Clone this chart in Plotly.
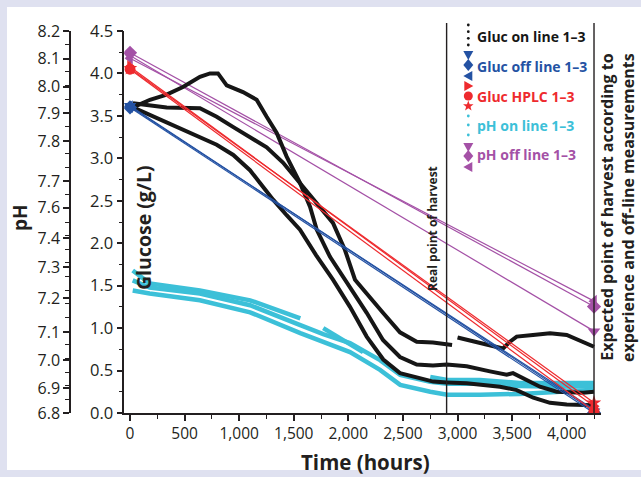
import math
import plotly.graph_objects as go

# ---------------- data ----------------
# Glucose on-line (g/L), three runs; None marks a gap in the record
gluc_on1_t = [27, 183, 336, 485, 641, 733, 806, 886, 1035, 1160, 1252, 1344, 1435, 1557, 1649, 1710,
              1832, 1969, 2168, 2317, 2473, 2626, 2775, 2901, 3084, 3297, 3450, 3508, 3633, 3755, 3908, 4149, 4250]
gluc_on1_g = [3.60, 3.69, 3.75, 3.84, 3.96, 4.00, 4.00, 3.86, 3.78, 3.69, 3.49, 3.30, 3.02, 2.71, 2.43, 2.16,
              1.84, 1.57, 1.18, 0.86, 0.66, 0.57, 0.56, 0.57, 0.55, 0.49, 0.45, 0.47, 0.39, 0.31, 0.25, 0.24, 0.25]

gluc_on2_t = [27, 183, 336, 641, 794, 943, 1099, 1252, 1401, 1557, 1710, 1859, 1969, 2061, 2317, 2473, 2626,
              2775, 2950, None, 3000, 3267, 3416, 3480, 3542, 3691, 3847, 4000, 4149, 4250]
gluc_on2_g = [3.65, 3.63, 3.60, 3.59, 3.49, 3.37, 3.25, 3.13, 2.95, 2.71, 2.47, 2.24, 1.92, 1.57, 1.18, 0.95, 0.84,
              0.83, 0.80, None, 0.89, 0.80, 0.76, 0.84, 0.90, 0.92, 0.94, 0.92, 0.84, 0.78]

gluc_on3_t = [27, 183, 336, 488, 641, 794, 946, 1099, 1191, 1313, 1435, 1557, 1704, 1859, 2015, 2168, 2320,
              2473, 2626, 2778, 2901, 3084, 3389, 3542, 3694, 3847, 4000, 4250]
gluc_on3_g = [3.60, 3.51, 3.42, 3.33, 3.25, 3.16, 3.04, 2.86, 2.71, 2.51, 2.33, 2.16, 1.86, 1.57, 1.25, 0.90, 0.63,
              0.47, 0.42, 0.37, 0.36, 0.35, 0.31, 0.27, 0.18, 0.12, 0.10, 0.09]

# pH on-line, three runs
ph_on1_t = [25, 180, 640, 1100, 1560, None, 1770, 2135, None, 2750, 2905, 3205, 3570, 3940, 4250]
ph_on1_v = [7.322, 7.275, 7.249, 7.213, 7.147, None, 7.111, 7.023, None, 6.932, 6.921, 6.921, 6.910, 6.910, 6.910]
ph_on2_t = [25, 180, 640, 1100, 1560, 1770, 2015, 2290, 2475, 2750, 2905, 3205, 3570, 3940, 4250]
ph_on2_v = [7.286, 7.260, 7.238, 7.195, 7.122, 7.089, 7.056, 6.994, 6.940, 6.914, 6.907, 6.907, 6.899, 6.896, 6.899]
ph_on3_t = [25, 180, 640, 1100, 1560, 1770, 2015, 2290, 2475, 2750, 2905, 3205, 3570, 3940, 4250]
ph_on3_v = [7.249, 7.238, 7.213, 7.169, 7.093, 7.060, 7.023, 6.958, 6.903, 6.878, 6.867, 6.867, 6.870, 6.878, 6.885]

# Off-line measurements: start and harvest points
offline_t = [0, 4250]
gluc_off = [[3.62, 0.02], [3.60, 0.00], [3.61, 0.04]]
gluc_hplc = [[4.08, 0.08], [4.05, 0.02], [4.06, 0.12]]
ph_off = [[8.11, 7.10], [8.12, 7.19], [8.10, 7.21]]

real_harvest_t = 2900
expected_harvest_t = 4250

# axis tick labels
x_ticks = [0, 500, 1000, 1500, 2000, 2500, 3000, 3500, 4000]
x_ticktext = ["0", "500", "1,000", "1,500", "2,000", "2,500", "3,000", "3,500", "4,000"]
ph_tickvals = [8.2, 8.099, 7.996, 7.899, 7.796, 7.65, 7.553, 7.44, 7.334, 7.22, 7.097, 6.994, 6.892, 6.8]
ph_ticktext = ["8.2", "8.1", "8.0", "7.9", "7.8", "7.7", "7.6", "7.4", "7.3", "7.2", "7.1", "7.0", "6.9", "6.8"]

legend_labels = ["Gluc on line 1\u20133", "Gluc off line 1\u20133", "Gluc HPLC 1\u20133",
                 "pH on line 1\u20133", "pH off line 1\u20133"]

# ---------------- styles ----------------
BLACK = "#161616"
BLUE = "#2452a3"
RED = "#ee2a2e"
CYAN = "#3cc0d8"
PURPLE = "#a451a6"
AXIS = "#231f20"
LAV = "#dfe1f0"
FONT = "Open Sans"

fig = go.Figure()

# pH (base axis y) - drawn first (underneath)
for t, v in [(ph_on1_t, ph_on1_v), (ph_on2_t, ph_on2_v), (ph_on3_t, ph_on3_v)]:
    fig.add_trace(go.Scatter(x=t, y=v, mode="lines", yaxis="y", connectgaps=False,
                             line=dict(color=CYAN, width=4.5), showlegend=False))
ph_syms = ["triangle-down", "diamond", "triangle-left"]
for vals, s in zip(ph_off, ph_syms):
    fig.add_trace(go.Scatter(x=offline_t, y=vals, mode="lines+markers", yaxis="y",
                             line=dict(color=PURPLE, width=1.2),
                             marker=dict(symbol=s, size=11, color=PURPLE), showlegend=False))

# glucose (overlay axis y2)
for t, g in [(gluc_on1_t, gluc_on1_g), (gluc_on2_t, gluc_on2_g), (gluc_on3_t, gluc_on3_g)]:
    fig.add_trace(go.Scatter(x=t, y=g, mode="lines", yaxis="y2", connectgaps=False,
                             line=dict(color=BLACK, width=4), showlegend=False))
for vals, s in zip(gluc_off, ["triangle-down", "diamond", "triangle-left"]):
    fig.add_trace(go.Scatter(x=offline_t, y=vals, mode="lines+markers", yaxis="y2",
                             line=dict(color=BLUE, width=1.2),
                             marker=dict(symbol=s, size=11, color=BLUE), showlegend=False))
for vals, s in zip(gluc_hplc, ["triangle-right", "circle", "star"]):
    fig.add_trace(go.Scatter(x=offline_t, y=vals, mode="lines+markers", yaxis="y2",
                             line=dict(color=RED, width=1.2),
                             marker=dict(symbol=s, size=11, color=RED), showlegend=False))

# ---------------- layout geometry ----------------
L, R, T, B = 70, 40, 31, 64
W, H = 641, 477
PW = W - L - R
PH = H - T - B


def px(xp):
    return (xp - L) / PW


def py(yp):
    return (H - B - yp) / PH


x_dom0 = px(124.3)

fig.update_layout(
    width=W, height=H,
    margin=dict(l=L, r=R, t=T, b=B),
    paper_bgcolor=LAV, plot_bgcolor="white",
    showlegend=False,
    font=dict(family=FONT, color=AXIS),
    xaxis=dict(domain=[x_dom0, 1], range=[-52, 4314], anchor="y",
               tickvals=x_ticks, ticktext=x_ticktext, ticks="outside", ticklen=6, tickwidth=1.5,
               tickcolor=AXIS, showline=True, linecolor=AXIS, linewidth=1.5, showgrid=False,
               zeroline=False, tickfont=dict(size=15.5, color=AXIS),
               minor=dict(ticks="outside", ticklen=4, tickwidth=1.3, tickcolor=AXIS, dtick=250, tick0=0)),
    yaxis=dict(range=[6.8, 8.2], anchor="free", position=0, side="left",
               tickvals=ph_tickvals, ticktext=ph_ticktext, ticks="outside", ticklen=6, tickwidth=1.5,
               tickcolor=AXIS, showline=True, linecolor=AXIS, linewidth=1.5, showgrid=False,
               zeroline=False, tickfont=dict(size=16, color=AXIS),
               minor=dict(ticks="outside", ticklen=4, tickwidth=1.3, tickcolor=AXIS, dtick=0.05, tick0=6.8)),
    yaxis2=dict(range=[0, 4.5], overlaying="y", anchor="x", side="left",
                dtick=0.5, tick0=0, tickformat=".1f", ticks="outside", ticklen=6, tickwidth=1.5,
                tickcolor=AXIS, showline=True, linecolor=AXIS, linewidth=1.5, showgrid=False,
                zeroline=False, tickfont=dict(size=16.5, color=AXIS),
                minor=dict(ticks="outside", ticklen=4, tickwidth=1.3, tickcolor=AXIS, dtick=0.25, tick0=0)),
)

# white panel and harvest lines
fig.add_shape(type="rect", xref="paper", yref="paper", x0=px(7), x1=px(W + 5), y0=py(470), y1=py(7),
              fillcolor="white", line=dict(width=0), layer="below")
for t in [real_harvest_t, expected_harvest_t]:
    fig.add_shape(type="line", xref="x", yref="paper", x0=t, x1=t, y0=0, y1=py(23),
                  line=dict(color=AXIS, width=1.4))

# titles / labels
ann = [
    dict(text="<b>pH</b>", x=px(20), y=py(218), textangle=-90, size=19),
    dict(text="<b>Time (hours)</b>", x=px(365), y=py(462), size=20.5),
    dict(text="<b>Glucose (g/L)</b>", x=px(143), y=py(228), textangle=-90, size=19.5),
    dict(text="<b>Real point of harvest</b>", x=px(433), y=py(229), textangle=-90, size=12),
    dict(text="<b>Expected point of harvest according to<br>experience and off-line measurements</b>",
         x=px(617), y=py(208), textangle=-90, align="right", size=16),
]
for a in ann:
    size = a.pop("size")
    fig.add_annotation(xref="paper", yref="paper", showarrow=False, xanchor="center", yanchor="middle",
                       font=dict(family=FONT, color=AXIS, size=size), **a)


# ---------------- custom legend ----------------
def star_path(ro, ri):
    pts = []
    for k in range(10):
        r = ro if k % 2 == 0 else ri
        ang = math.radians(90 + 36 * k)
        pts.append("%.2f,%.2f" % (r * math.cos(ang), r * math.sin(ang)))
    return "M " + " L ".join(pts) + " Z"


GLYPH_PATHS = {
    "tdown": "M -5,4 L 5,4 L 0,-5 Z",
    "tleft": "M 4,5 L 4,-5 L -5,0 Z",
    "tright": "M -4,5 L -4,-5 L 5,0 Z",
    "diamond": "M 0,6 L 5,0 L 0,-6 L -5,0 Z",
    "star": star_path(5.5, 2.3),
}

leg_colors = [BLACK, BLUE, RED, CYAN, PURPLE]
leg_glyphs = [["dot"] * 4, ["tdown", "diamond", "tleft"], ["tright", "circle", "star"],
              ["dot"] * 3, ["tdown", "diamond", "tleft"]]
leg_text_y = [36.7, 66, 96.7, 125.7, 154]
leg_glyph_y = [[25, 31.7, 38.3, 45], [55, 65, 76], [86, 96, 106], [116, 125, 135], [147, 156, 167]]
gx = px(468.3)
for lab, col, gl, ty, gy in zip(legend_labels, leg_colors, leg_glyphs, leg_text_y, leg_glyph_y):
    fig.add_annotation(xref="paper", yref="paper", x=px(475), y=py(ty), xanchor="left", yanchor="middle",
                       showarrow=False, text="<b>%s</b>" % lab, font=dict(family=FONT, size=14, color=col))
    for g, yy in zip(gl, gy):
        common = dict(xref="paper", yref="paper", xsizemode="pixel", ysizemode="pixel",
                      xanchor=gx, yanchor=py(yy), fillcolor=col, line=dict(width=0))
        if g == "dot":
            fig.add_shape(type="circle", x0=-1.4, x1=1.4, y0=-1.4, y1=1.4, **common)
        elif g == "circle":
            fig.add_shape(type="circle", x0=-4.5, x1=4.5, y0=-4.5, y1=4.5, **common)
        else:
            fig.add_shape(type="path", path=GLYPH_PATHS[g], **common)

fig.write_html("out.html", config={"displayModeBar": False},
               post_script="document.body.style.margin='0';document.body.style.padding='0';")
